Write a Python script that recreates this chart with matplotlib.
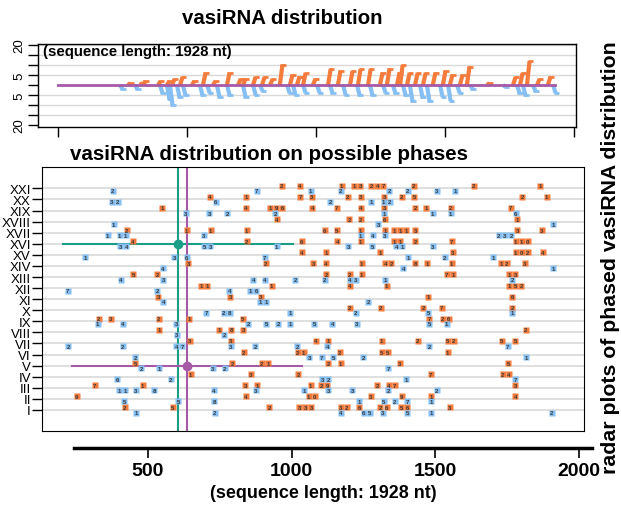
import matplotlib
matplotlib.use("Agg")
import matplotlib.pyplot as plt

plt.rcParams["font.family"] = ["Liberation Sans", "DejaVu Sans"]

ORANGE = "#f47b3b"
BLUE = "#85bff3"
PURPLE = "#a65aa6"
GREEN = "#1a9e85"
GRID = "#d9d9d9"

seq_len = 1928
phase_names = ["I", "II", "III", "IV", "V", "VI", "VII", "VIII", "IX", "X", "XI",
               "XII", "XIII", "XIV", "XV", "XVI", "XVII", "XVIII", "XIX", "XX", "XXI"]

# top panel: vasiRNA start position (nt) and read count, per strand
top_sense_pos = [271, 318, 329, 388, 422, 442, 473, 519, 562, 601, 655, 698, 717, 756,
                 791, 822, 860, 899, 926, 950, 988, 1047, 1085, 1132, 1163, 1202, 1248,
                 1275, 1314, 1326, 1353, 1384, 1415, 1453, 1492, 1519, 1558, 1585, 1663,
                 1764, 1791, 1818, 1857, 1899]
top_sense_n = [1, 1, 2, 2, 2, 3, 4, 2, 6, 2, 6, 3, 3, 4,
               4, 3, 10, 5, 4, 6, 3, 8, 7, 7, 8, 8, 6,
               8, 6, 10, 6, 6, 6, 6, 7, 5, 5, 9, 1,
               4, 6, 12, 3, 4]
top_anti_pos = [240, 298, 395, 422, 434, 461, 484, 550, 578, 616, 655, 717, 756, 783,
                888, 911, 950, 1004, 1054, 1105, 1159, 1209, 1260, 1298, 1337, 1364,
                1403, 1430, 1481, 1512, 1547, 1597, 1725, 1779, 1802, 1841, 1919]
top_anti_n = [2, 2, 4, 7, 10, 6, 5, 5, 4, 6, 5, 6, 5, 3,
              4, 5, 4, 4, 4, 5, 5, 5, 4, 4, 5, 8,
              6, 8, 6, 8, 4, 2, 1, 4, 5, 3, 4]

# bottom panel: (phase, position nt, read-count label)
sense_labels = [
    (21, 966, "2"), (21, 1029, "4"), (21, 1174, "1"), (21, 1229, "13"), (21, 1298, "247"),
    (21, 1426, "2"), (21, 1635, "2"), (21, 1865, "1"),
    (20, 716, "4"), (20, 841, "1"), (20, 1029, "7"), (20, 1070, "3"), (20, 1195, "2"),
    (20, 1240, "3"), (20, 1322, "3"), (20, 1383, "2"), (20, 1427, "5"), (20, 1803, "2"),
    (20, 1888, "1"),
    (19, 550, "1"), (19, 841, "4"), (19, 946, "196"), (19, 1072, "4"), (19, 1157, "7"),
    (19, 1240, "4"), (19, 1322, "3"), (19, 1430, "2"), (19, 1468, "1"), (19, 1554, "2"),
    (19, 1763, "7"),
    (18, 948, "4"), (18, 1201, "2"), (18, 1240, "2"), (18, 1325, "6"), (18, 1786, "1"),
    (17, 426, "2"), (17, 635, "1"), (17, 718, "1"), (17, 844, "1"), (17, 1116, "6"),
    (17, 1157, "5"), (17, 1240, "1"), (17, 1325, "1"), (17, 1377, "111"), (17, 1430, "3"),
    (17, 1786, "3"), (17, 1871, "3"),
    (16, 447, "4"), (16, 844, "2"), (16, 1035, "6"), (16, 1159, "4"), (16, 1240, "1"),
    (16, 1368, "11"), (16, 1430, "2"), (16, 1557, "7"), (16, 1801, "110"),
    (15, 1035, "4"), (15, 1120, "1"), (15, 1308, "1"), (15, 1561, "3"), (15, 1801, "102"),
    (15, 1874, "4"),
    (14, 641, "3"), (14, 910, "2"), (14, 1076, "3"), (14, 1119, "4"), (14, 1244, "1"),
    (14, 1337, "42"), (14, 1430, "8"), (14, 1472, "1"), (14, 1557, "1"), (14, 1739, "12"),
    (14, 1812, "3"),
    (13, 449, "5"), (13, 533, "2"), (13, 1120, "2"), (13, 1203, "2"), (13, 1244, "1"),
    (13, 1551, "71"), (13, 1768, "13"),
    (12, 695, "11"), (12, 931, "1"), (12, 1203, "4"), (12, 1331, "1"), (12, 1778, "152"),
    (11, 536, "3"), (11, 786, "3"), (11, 892, "3"), (11, 1476, "1"), (11, 1768, "6"),
    (10, 1203, "2"), (10, 1310, "2"), (10, 1458, "2"), (10, 1522, "7"), (10, 1768, "2"),
    (9, 328, "2"), (9, 370, "3"), (9, 538, "2"), (9, 643, "1"), (9, 830, "5"),
    (9, 1479, "7"), (9, 1536, "26"),
    (8, 538, "1"), (8, 747, "1"), (8, 789, "8"), (8, 832, "3"), (8, 1816, "2"),
    (7, 646, "3"), (7, 789, "3"), (7, 1085, "4"), (7, 1128, "1"), (7, 1314, "1"),
    (7, 1439, "2"), (7, 1554, "52"), (7, 1731, "5"), (7, 1778, "5"),
    (6, 834, "2"), (6, 1032, "21"), (6, 1168, "2"), (6, 1325, "55"), (6, 1543, "1"),
    (5, 455, "5"), (5, 794, "2"), (5, 907, "21"), (5, 1128, "2"), (5, 1171, "1"),
    (5, 1377, "3"), (5, 1754, "5"),
    (4, 649, "1"), (4, 858, "3"), (4, 1023, "2"), (4, 1485, "7"), (4, 1746, "24"),
    (3, 314, "7"), (3, 482, "1"), (3, 838, "3"), (3, 881, "1"), (3, 1066, "1"),
    (3, 1113, "29"), (3, 1298, "2"), (3, 1348, "47"), (3, 1778, "3"),
    (2, 252, "9"), (2, 840, "4"), (2, 1070, "10"), (2, 1276, "3"), (2, 1383, "9"),
    (2, 1485, "1"), (2, 1778, "4"),
    (1, 420, "2"), (1, 586, "5"), (1, 922, "2"), (1, 1047, "333"), (1, 1182, "32"),
    (1, 1236, "6"), (1, 1320, "26"), (1, 1392, "56"), (1, 1551, "3"),
]
anti_labels = [
    (21, 377, "2"), (21, 878, "7"), (21, 1066, "1"), (21, 1171, "2"), (21, 1340, "2"),
    (21, 1404, "2"), (21, 1505, "3"), (21, 1569, "1"),
    (20, 385, "32"), (20, 736, "6"), (20, 1134, "2"), (20, 1276, "1"), (20, 1331, "12"),
    (19, 632, "3"), (19, 714, "3"), (19, 776, "2"), (19, 943, "2"), (19, 1322, "1"),
    (19, 1491, "1"), (19, 1554, "1"), (19, 1781, "6"),
    (18, 380, "1"), (18, 1302, "3"), (18, 1911, "1"),
    (17, 360, "1"), (17, 412, "11"), (17, 695, "3"), (17, 1240, "1"), (17, 1282, "4"),
    (17, 1325, "3"), (17, 1743, "232"),
    (16, 414, "34"), (16, 707, "53"), (16, 948, "1"), (16, 1197, "3"), (16, 1281, "5"),
    (16, 1375, "41"), (16, 1491, "3"),
    (15, 281, "1"), (15, 591, "3"), (15, 635, "6"), (15, 907, "7"), (15, 1406, "1"),
    (15, 1534, "2"), (15, 1702, "1"),
    (14, 551, "4"), (14, 1389, "4"), (14, 1911, "1"),
    (13, 405, "4"), (13, 553, "3"), (13, 867, "4"), (13, 907, "4"), (13, 1012, "2"),
    (13, 1116, "2"), (13, 1213, "43"), (13, 1325, "1"), (13, 1768, "2"),
    (12, 220, "7"), (12, 533, "2"), (12, 783, "4"), (12, 867, "16"),
    (11, 553, "4"), (11, 901, "11"), (11, 1267, "2"),
    (10, 702, "7"), (10, 774, "28"), (10, 994, "1"), (10, 1224, "2"), (10, 1476, "5"),
    (10, 1768, "1"),
    (9, 325, "1"), (9, 412, "4"), (9, 598, "3"), (9, 849, "2"), (9, 911, "5"),
    (9, 954, "2"), (9, 994, "1"), (9, 1078, "5"), (9, 1142, "4"), (9, 1226, "3"),
    (9, 1479, "5"), (9, 1540, "1"),
    (8, 600, "3"), (8, 766, "2"),
    (7, 223, "2"), (7, 412, "2"), (7, 609, "47"), (7, 789, "3"), (7, 873, "2"),
    (7, 1020, "2"), (7, 1124, "4"), (7, 1479, "2"), (7, 1752, "7"),
    (6, 455, "2"), (6, 1061, "3"), (6, 1105, "7"), (6, 1145, "5"), (6, 1250, "2"),
    (6, 1816, "1"),
    (5, 476, "2"), (5, 540, "1"), (5, 725, "3"), (5, 768, "2"), (5, 1337, "7"),
    (4, 393, "6"), (4, 580, "2"), (4, 1117, "32"), (4, 1398, "1"), (4, 1778, "7"),
    (3, 409, "11"), (3, 458, "3"), (3, 521, "8"), (3, 730, "4"), (3, 876, "3"),
    (3, 1043, "1"), (3, 1128, "3"), (3, 1211, "3"), (3, 1337, "2"), (3, 1505, "2"),
    (2, 417, "5"), (2, 606, "5"), (2, 731, "8"), (2, 1235, "1"), (2, 1320, "5"),
    (2, 1360, "2"), (2, 1403, "7"), (2, 1485, "1"),
    (1, 458, "1"), (1, 733, "2"), (1, 1171, "4"), (1, 1261, "65"), (1, 1317, "3"),
    (1, 1403, "5"), (1, 1485, "1"), (1, 1905, "2"),
]

# highlighted phased loci (crosshairs)
green_pos, green_phase = 604, 16
purple_pos, purple_phase = 636, 5
cross_half = 400

W, H = 621, 506
fig = plt.figure(figsize=(W / 100, H / 100), dpi=100)

# ---- top panel: strand distribution ----
ax_top = fig.add_axes([38 / W, 1 - 127.7 / H, 538 / W, 82.7 / H])
ax_top.set_xlim(-77.5, 2008)
ax_top.set_ylim(-20.85, 20.5)
for v in [-15, -10, -5, 5, 10, 15, 20]:
    ax_top.axhline(v, color=GRID, lw=1, zorder=0)
for p, n in zip(top_sense_pos, top_sense_n):
    ax_top.plot([p, p + 10], [0, n], color=ORANGE, lw=3, solid_capstyle="butt", zorder=2)
    ax_top.plot([p + 2, p + 22], [n, n], color=ORANGE, lw=2, solid_capstyle="butt", zorder=2)
for p, n in zip(top_anti_pos, top_anti_n):
    ax_top.plot([p, p + 10], [0, -n], color=BLUE, lw=3, solid_capstyle="butt", zorder=2)
    ax_top.plot([p + 2, p + 22], [-n, -n], color=BLUE, lw=2, solid_capstyle="butt", zorder=2)
ax_top.plot([0, seq_len], [0, 0], color=PURPLE, lw=2, zorder=3)
ax_top.set_xticks([0, 500, 1000, 1500, 2000])
ax_top.set_xticklabels([])
ax_top.set_yticks([-20, -15, -10, -5, 0, 5, 10, 15, 20])
ax_top.set_yticklabels(["20", "", "", "5", "", "5", "", "", "20"], rotation=90, va="center")
ax_top.tick_params(axis="both", length=7, width=1, labelsize=9.5, pad=2)
for s in ax_top.spines.values():
    s.set_linewidth(1)
ax_top.text(0.009, 0.915, "(sequence length: 1928 nt)", transform=ax_top.transAxes,
            fontsize=10.8, fontweight="bold", ha="left", va="center")

# ---- main panel: phases ----
ax = fig.add_axes([42 / W, 1 - 431.7 / H, 542 / W, 263.4 / H])
ax.set_xlim(131, 2018)
ax.set_ylim(-0.87, 22.9)
for i in range(1, len(phase_names) + 1):
    ax.axhline(i, color=GRID, lw=1.2, zorder=0)
ax.set_yticks(range(1, len(phase_names) + 1))
ax.set_yticklabels(phase_names)
ax.set_xticks([])
ax.tick_params(axis="y", length=7, width=1, labelsize=9.5, pad=1)

ax.axvline(green_pos, color=GREEN, lw=1.5, zorder=1)
ax.plot([green_pos - cross_half, green_pos + cross_half], [green_phase] * 2,
        color=GREEN, lw=1.5, zorder=1)
ax.plot(green_pos, green_phase, "o", color=GREEN, ms=6, zorder=4)
ax.axvline(purple_pos, color=PURPLE, lw=1.5, zorder=1)
ax.plot([purple_pos - cross_half, purple_pos + cross_half], [purple_phase] * 2,
        color=PURPLE, lw=1.5, zorder=1)
ax.plot(purple_pos, purple_phase, "o", color=PURPLE, ms=6, zorder=4)

# each digit sits in its own small box, neighbouring boxes touch
step = 21
for labels, color, dy in [(sense_labels, ORANGE, 0.23), (anti_labels, BLUE, -0.23)]:
    for ph, pos, lab in labels:
        for k, ch in enumerate(lab):
            x = pos + (k - (len(lab) - 1) / 2) * step
            ax.plot(x, ph + dy, "s", ms=4.6, color=color, mec="none", zorder=3)
            ax.text(x, ph + dy, ch, fontsize=4.3, fontweight="bold", ha="center",
                    va="center", color="#3a3a3a", zorder=4)

# detached position axis under main panel
ax_x = fig.add_axes([42 / W, 1 - 449 / H, 542 / W, 0.0001])
ax_x.set_xlim(131, 2018)
ax_x.patch.set_visible(False)
for side in ["left", "right", "top"]:
    ax_x.spines[side].set_visible(False)
ax_x.spines["bottom"].set_linewidth(2.5)
ax_x.spines["bottom"].set_bounds(243, 2046)
ax_x.set_yticks([])
ax_x.set_xticks([500, 1000, 1500, 2000])
ax_x.tick_params(axis="x", length=7, width=1.2, labelsize=14, pad=3)
for t in ax_x.get_xticklabels():
    t.set_fontweight("bold")

fig.text(282 / W, 1 - 18 / H, "vasiRNA distribution", fontsize=14.7, fontweight="bold",
         ha="center", va="center")
fig.text(269 / W, 1 - 155 / H, "vasiRNA distribution on possible phases", fontsize=14.8,
         fontweight="bold", ha="center", va="center")
fig.text(323 / W, 1 - 494 / H, "(sequence length: 1928 nt)", fontsize=12.9,
         fontweight="bold", ha="center", va="center")
fig.text(611 / W, 1 - 258 / H, "radar plots of phased vasiRNA distribution", fontsize=15.3,
         fontweight="bold", rotation=90, ha="center", va="center")

fig.savefig("out.png", dpi=100)
